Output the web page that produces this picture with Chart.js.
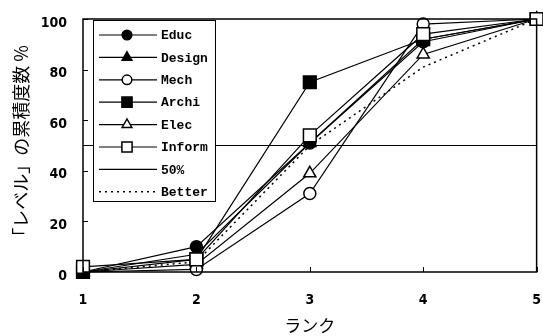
<!DOCTYPE html>
<html>
<head>
<meta charset="utf-8">
<script src="https://cdn.jsdelivr.net/npm/chart.js@4/dist/chart.umd.min.js"></script>
<style>
  html, body { margin: 0; padding: 0; background: #fff; }
  #wrap { width: 543px; height: 336px; }
</style>
</head>
<body>
<div id="wrap"><canvas id="rankChart" width="543" height="336"></canvas></div>
<script>
const ranks = ['1', '2', '3', '4', '5'];
const educ = [0, 10, 51, 91, 100];
const design = [0, 7, 51, 92, 100];
const mech = [0, 1, 31, 98, 100];
const archi = [0, 5, 75, 92, 100];
const elec = [0, 3, 39, 86, 100];
const inform = [2, 5, 54, 94, 100];
const half = [50, 50, 50, 50, 50];
const better = [0, 4, 50, 81, 100];
const yTicks = [0, 20, 40, 60, 80, 100];

function series(label, data, style, filled, radius) {
    return {
        label: label,
        data: data,
        borderColor: '#000',
        borderWidth: 1.2,
        pointStyle: style,
        pointRadius: radius,
        pointBorderWidth: 1.5,
        pointBorderColor: '#000',
        pointBackgroundColor: filled ? '#000' : '#fff',
        tension: 0,
        clip: 12
    };
}

function drawMarker(ctx, style, filled, x, y, r) {
    ctx.beginPath();
    if (style === 'circle') {
        ctx.arc(x, y, r, 0, Math.PI * 2);
    } else if (style === 'rect') {
        const s = r * Math.SQRT1_2;
        ctx.rect(x - s, y - s, s * 2, s * 2);
    } else if (style === 'triangle') {
        ctx.moveTo(x, y - r);
        ctx.lineTo(x + r * 0.866, y + r * 0.5);
        ctx.lineTo(x - r * 0.866, y + r * 0.5);
        ctx.closePath();
    }
    ctx.fillStyle = filled ? '#000' : '#fff';
    ctx.fill();
    ctx.lineWidth = 1.5;
    ctx.strokeStyle = '#000';
    ctx.stroke();
}

const boxLegend = {
    id: 'boxLegend',
    afterDraw(chart) {
        const ctx = chart.ctx;
        const left = 93, top = 20, right = 215, bottom = 201;
        ctx.save();
        ctx.fillStyle = '#fff';
        ctx.fillRect(left, top, right - left, bottom - top);
        ctx.strokeStyle = '#000';
        ctx.lineWidth = 1;
        ctx.strokeRect(left + 0.5, top + 0.5, right - left, bottom - top);
        ctx.font = 'bold 13px "Liberation Mono", "DejaVu Sans Mono", monospace';
        ctx.textBaseline = 'middle';
        chart.data.datasets.forEach((ds, i) => {
            const y = 35 + i * 22.4;
            ctx.beginPath();
            ctx.strokeStyle = '#000';
            ctx.lineWidth = ds.borderDash ? 1.5 : 1.2;
            ctx.setLineDash(ds.borderDash || []);
            ctx.moveTo(99, y);
            ctx.lineTo(157, y);
            ctx.stroke();
            ctx.setLineDash([]);
            if (ds.pointRadius > 0) {
                drawMarker(ctx, ds.pointStyle, ds.pointBackgroundColor === '#000', 127, y, ds.pointRadius * 0.8);
            }
            ctx.fillStyle = '#000';
            ctx.fillText(ds.label, 161, y + 1);
        });
        ctx.restore();
    }
};

const innerTicks = {
    id: 'innerTicks',
    afterDatasetsDraw(chart) {
        const ctx = chart.ctx;
        const area = chart.chartArea;
        const xs = chart.scales.x;
        const ys = chart.scales.y;
        ctx.save();
        ctx.strokeStyle = '#000';
        ctx.lineWidth = 1;
        ctx.beginPath();
        yTicks.forEach(v => {
            const py = Math.round(ys.getPixelForValue(v)) + 0.5;
            ctx.moveTo(area.left, py);
            ctx.lineTo(area.left + 5, py);
        });
        ranks.forEach((r, i) => {
            const px = Math.round(xs.getPixelForValue(i)) + 0.5;
            ctx.moveTo(px, area.bottom);
            ctx.lineTo(px, area.bottom - 5);
        });
        ctx.stroke();
        ctx.lineWidth = 1.5;
        ctx.strokeRect(area.left, area.top, area.right - area.left, area.bottom - area.top);
        ctx.restore();
    }
};

const informLine = series('Inform', inform, 'rect', false, 9);
informLine.order = -1; // open squares sit on top in the original
const halfLine = series('50%', half, 'circle', false, 0);
const betterLine = series('Better', better, 'circle', false, 0);
betterLine.borderDash = [2, 4];
betterLine.borderWidth = 1.5;

const tickFont = { family: '"DejaVu Sans Condensed", "Liberation Sans", sans-serif', size: 14, weight: 'bold' };
// transparent tick marks stand in for label spacing so the side padding stays small
const hiddenGrid = (len) => ({ display: true, drawOnChartArea: false, drawTicks: true, tickLength: len, color: 'rgba(0,0,0,0)' });

const ctx = document.getElementById('rankChart').getContext('2d');
new Chart(ctx, {
    type: 'line',
    data: {
        labels: ranks,
        datasets: [
            series('Educ', educ, 'circle', true, 6),
            series('Design', design, 'triangle', true, 7),
            series('Mech', mech, 'circle', false, 6),
            series('Archi', archi, 'rect', true, 9),
            series('Elec', elec, 'triangle', false, 7),
            informLine,
            halfLine,
            betterLine
        ]
    },
    options: {
        responsive: false,
        animation: false,
        layout: { autoPadding: false, padding: { top: 19, right: 0, left: 0, bottom: 0 } },
        plugins: {
            legend: { display: false },
            tooltip: { enabled: false }
        },
        scales: {
            x: {
                offset: false,
                grid: hiddenGrid(18),
                border: { display: false },
                afterFit(scale) { scale.height = 64; },
                ticks: { color: '#000', padding: 2, maxRotation: 0, font: tickFont },
                title: {
                    display: true,
                    text: 'ランク',
                    color: '#000',
                    padding: { top: 6, bottom: 0 },
                    font: { family: '"Noto Sans CJK JP", sans-serif', size: 17 }
                }
            },
            y: {
                min: 0,
                max: 100,
                afterFit(scale) { scale.width = 83; },
                afterBuildTicks(scale) { scale.ticks = yTicks.map(v => ({ value: v })); },
                grid: hiddenGrid(14),
                border: { display: false },
                ticks: { color: '#000', padding: 2, labelOffset: 4, font: tickFont },
                title: {
                    display: true,
                    text: '「レベル」の累積度数 %',
                    color: '#000',
                    padding: { top: 10, bottom: 4 },
                    font: { family: '"Noto Sans CJK JP", sans-serif', size: 18 }
                }
            }
        }
    },
    plugins: [innerTicks, boxLegend]
});
</script>
</body>
</html>
